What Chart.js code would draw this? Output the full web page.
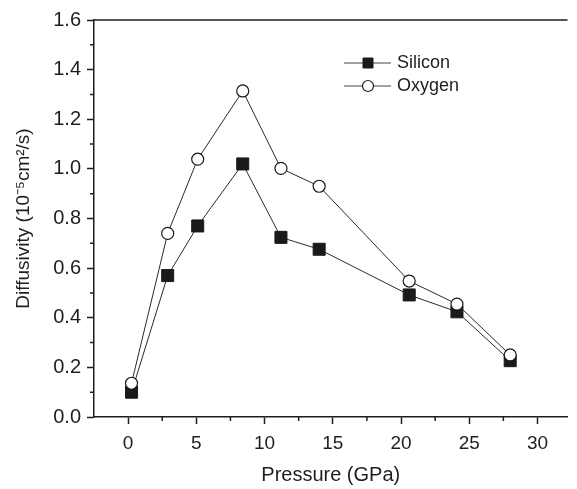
<!DOCTYPE html>
<html>
<head>
<meta charset="utf-8">
<script src="https://cdn.jsdelivr.net/npm/chart.js@4/dist/chart.umd.min.js"></script>
<style>
  body { margin: 0; background: #fff; }
  canvas { display: block; }
</style>
</head>
<body>
<canvas id="diffChart" width="577" height="489"></canvas>
<script>
// values
const pressure = [0.25, 2.9, 5.1, 8.4, 11.2, 14.0, 20.6, 24.1, 28.0];
const silicon  = [0.10, 0.57, 0.77, 1.02, 0.724, 0.676, 0.492, 0.424, 0.227];
const oxygen   = [0.136, 0.74, 1.039, 1.314, 1.002, 0.93, 0.548, 0.455, 0.25];
const xTicks = [0, 5, 10, 15, 20, 25, 30];
const yTicks = [0, 0.2, 0.4, 0.6, 0.8, 1.0, 1.2, 1.4, 1.6];
const xMinor = [2.5, 7.5, 12.5, 17.5, 22.5, 27.5];
const yMinor = [0.1, 0.3, 0.5, 0.7, 0.9, 1.1, 1.3, 1.5];

const ink = '#1e1e1e';
const fontFamily = '"Liberation Sans", Arial, Helvetica, sans-serif';

function pts(xs, ys) {
    return xs.map((x, i) => ({ x: x, y: ys[i] }));
}

// frame top line, minor ticks and the inset legend
const extras = {
    id: 'extras',
    afterDraw(chart) {
        const ctx = chart.ctx;
        const area = chart.chartArea;
        const xs = chart.scales.x, ys = chart.scales.y;
        ctx.save();
        ctx.strokeStyle = ink;
        ctx.lineWidth = 1.5;
        ctx.beginPath();
        ctx.moveTo(area.left, area.top);
        ctx.lineTo(area.right, area.top);
        ctx.stroke();

        ctx.beginPath();
        xMinor.forEach(v => {
            const px = xs.getPixelForValue(v);
            ctx.moveTo(px, area.bottom);
            ctx.lineTo(px, area.bottom + 4);
        });
        yMinor.forEach(v => {
            const py = ys.getPixelForValue(v);
            ctx.moveTo(area.left, py);
            ctx.lineTo(area.left - 4, py);
        });
        ctx.stroke();

        // legend
        const lx = area.left + 250, ly = area.top + 43, rowH = 23;
        chart.data.datasets.forEach((ds, i) => {
            const y = ly + i * rowH;
            ctx.strokeStyle = '#444';
            ctx.lineWidth = ds.borderWidth;
            ctx.beginPath();
            ctx.moveTo(lx, y);
            ctx.lineTo(lx + 47, y);
            ctx.stroke();
            const cx = lx + 24;
            ctx.fillStyle = ds.pointBackgroundColor;
            ctx.strokeStyle = ds.pointBorderColor;
            ctx.lineWidth = ds.pointBorderWidth;
            ctx.beginPath();
            if (ds.pointStyle === 'rect') {
                const s = 5;
                ctx.rect(cx - s, y - s, 2 * s, 2 * s);
            } else {
                ctx.arc(cx, y, 5.5, 0, Math.PI * 2);
            }
            ctx.fill();
            ctx.stroke();
            ctx.fillStyle = ink;
            ctx.font = '18px ' + fontFamily;
            ctx.textBaseline = 'middle';
            ctx.textAlign = 'left';
            ctx.fillText(ds.label, lx + 53, y);
        });
        ctx.restore();
    }
};

new Chart(document.getElementById('diffChart').getContext('2d'), {
    type: 'scatter',
    data: {
        datasets: [
            {
                label: 'Silicon',
                data: pts(pressure, silicon),
                showLine: true,
                borderColor: '#2a2a2a',
                borderWidth: 1,
                pointStyle: 'rect',
                pointRadius: 8.5,
                pointHoverRadius: 8.5,
                pointBackgroundColor: '#1a1a1a',
                pointBorderColor: '#1a1a1a',
                pointBorderWidth: 1,
                order: 2
            },
            {
                label: 'Oxygen',
                data: pts(pressure, oxygen),
                showLine: true,
                borderColor: '#2a2a2a',
                borderWidth: 1,
                pointStyle: 'circle',
                pointRadius: 6,
                pointHoverRadius: 6,
                pointBackgroundColor: '#ffffff',
                pointBorderColor: '#1a1a1a',
                pointBorderWidth: 1.2,
                order: 1
            }
        ]
    },
    options: {
        responsive: false,
        animation: false,
        layout: { padding: { top: 20, right: 0, bottom: 0, left: 0 } },
        plugins: {
            legend: { display: false },
            tooltip: { enabled: false }
        },
        scales: {
            x: {
                type: 'linear',
                min: -2.5,
                max: 32.2,
                afterBuildTicks: s => { s.ticks = xTicks.map(v => ({ value: v })); },
                afterFit: s => { s.height = 72; },
                grid: { drawOnChartArea: false, drawTicks: true, tickLength: 7, tickColor: ink, tickWidth: 1.5 },
                border: { color: ink, width: 1.5 },
                ticks: { color: ink, padding: 8, maxRotation: 0, font: { family: fontFamily, size: 19 } },
                title: {
                    display: true,
                    text: 'Pressure (GPa)',
                    color: ink,
                    padding: { top: 0, bottom: 2 },
                    font: { family: fontFamily, size: 20 }
                }
            },
            y: {
                type: 'linear',
                min: 0,
                max: 1.6,
                afterBuildTicks: s => { s.ticks = yTicks.map(v => ({ value: v })); },
                afterFit: s => { s.width = 94; },
                grid: { drawOnChartArea: false, drawTicks: true, tickLength: 7, tickColor: ink, tickWidth: 1.5 },
                border: { color: ink, width: 1.5 },
                ticks: {
                    color: ink,
                    padding: 6,
                    font: { family: fontFamily, size: 20 },
                    callback: v => Number(v).toFixed(1)
                },
                title: {
                    display: true,
                    text: 'Diffusivity (10\u207B\u2075cm\u00B2/s)',
                    color: ink,
                    padding: { top: 12, bottom: 0 },
                    font: { family: fontFamily, size: 19 }
                }
            }
        }
    },
    plugins: [extras]
});
</script>
</body>
</html>
